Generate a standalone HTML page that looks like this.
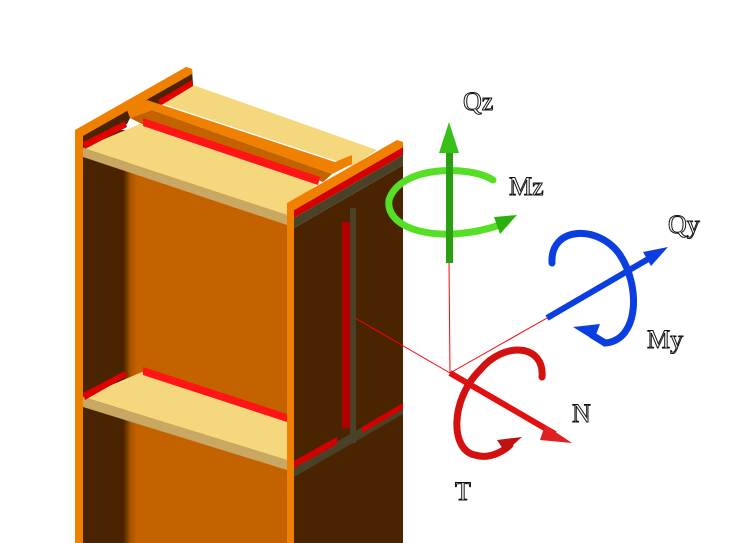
<!DOCTYPE html>
<html><head><style>
html,body{margin:0;padding:0;background:#fff;}
svg{display:block;}
text{font-family:"Liberation Serif",serif;font-size:26px;fill:#fff;stroke:#111;stroke-width:1;}
</style></head><body>
<svg width="734" height="543" viewBox="0 0 734 543" xmlns="http://www.w3.org/2000/svg">
<defs>
<linearGradient id="wg" x1="0" x2="1" y1="0" y2="0">
<stop offset="0" stop-color="#4a2400"/><stop offset="0.75" stop-color="#4a2400"/><stop offset="0.88" stop-color="#a85400"/><stop offset="1" stop-color="#c46200"/>
</linearGradient>
</defs>
<!-- back yellow plate -->
<polygon points="193,85 377,150 352,166 160,103" fill="#f5d77e"/>
<!-- back flange inner face -->
<polygon points="186,67 192,69 193,85 155,108 118,114" fill="#4a2400"/>
<polygon points="158,100 192,80 193,86 160,106" fill="#e00000"/>
<!-- front web face -->
<polygon points="83,128 287,200 287,543 83,543" fill="#c46200"/>
<rect x="83" y="130" width="54" height="413" fill="url(#wg)"/>
<!-- web band top -->
<polygon points="116,112 147,100 335,162 352,155 352,164 332,174 152,110 130,118" fill="#f08000"/>
<polygon points="130,118 152,110 332,174 323,182 142,124" fill="#c46200"/>
<!-- left flange -->
<polygon points="83,134 127,110 130,118 127,124 83,146" fill="#4a2400"/>
<polygon points="75,130 186,67 192,69 192,74 83,136 83,543 75,543" fill="#f08000"/>
<!-- front yellow plate -->
<polygon points="83,148 140,124 320,180 287,215" fill="#f5d77e"/>
<polygon points="83,148 287,215 287,225 83,157" fill="#c8a862"/>
<polygon points="83,142 125,121 127,127 85,149" fill="#e00000"/>
<polygon points="143,118 320,177 318,185 143,126" fill="#ff1515"/>
<!-- right flange -->
<polygon points="294,228 403,165 403,543 294,543" fill="#4a2400"/>
<polygon points="294,210 403,147 403,155 294,218" fill="#d40000"/>
<polygon points="294,218 403,155 403,165 294,228" fill="#4a4228"/>
<polygon points="287,203 397,140 403,142 403,147 294,210 294,543 287,543" fill="#f08000"/>
<!-- web on side -->
<rect x="350" y="208" width="6" height="235" fill="#4a4228"/>
<rect x="342" y="222" width="8" height="206" fill="#b00000"/>
<!-- lower stiffener -->
<polygon points="83,397 142,372 287,420 287,460" fill="#f5d77e"/>
<polygon points="83,397 287,460 287,470 83,407" fill="#c8a862"/>
<polygon points="83,393 125,371 127,376 85,400" fill="#e00000"/>
<polygon points="143,367 287,414 287,422 143,375" fill="#ff1515"/>
<polygon points="294,466 403,404 403,414 294,477" fill="#4a4228"/>
<polygon points="294,461 337,437 337,444 294,468" fill="#d40000"/>
<polygon points="362,427 403,403 403,409 362,433" fill="#d40000"/>
<!-- red lines -->
<line x1="355" y1="318" x2="450" y2="373" stroke="#f00" stroke-width="1"/>
<line x1="449" y1="263" x2="450" y2="373" stroke="#f00" stroke-width="1"/>
<line x1="450" y1="373" x2="547" y2="318" stroke="#f00" stroke-width="1"/>
<!-- green -->
<path d="M493,180 C470,165 400,165 389,200 C385,230 440,245 500,225" fill="none" stroke="#55e025" stroke-width="7" stroke-linecap="round"/>
<polygon points="494,217 517,215 500,234" fill="#2cb010"/>
<rect x="446" y="150" width="7" height="113" fill="#2aa010"/>
<polygon points="449,122 459,153 439,153" fill="#38c018"/>
<!-- blue -->
<line x1="547" y1="318" x2="650" y2="258" stroke="#0a3ee0" stroke-width="6"/>
<polygon points="668,247 643,252 651,266" fill="#0a3ee0"/>
<path d="M552,263 C550,225 600,225 620,255 C640,285 640,340 605,343 L592,335" fill="none" stroke="#0a3ee0" stroke-width="7" stroke-linecap="round"/>
<polygon points="573,327 600,324 594,340" fill="#0a3ee0"/>
<!-- red -->
<line x1="450" y1="373" x2="555" y2="434" stroke="#e21010" stroke-width="6"/>
<polygon points="572,443 545,425 540,440" fill="#e02020"/>
<path d="M542,377 C545,345 505,340 480,370 C450,400 450,450 475,455 C490,460 505,450 510,445" fill="none" stroke="#d41010" stroke-width="7" stroke-linecap="round"/>
<polygon points="522,437 497,440 505,452" fill="#c01010"/>
<!-- labels -->
<text x="463" y="110">Qz</text>
<text x="509" y="195">Mz</text>
<text x="668" y="233">Qy</text>
<text x="647" y="348">My</text>
<text x="572" y="422">N</text>
<text x="455" y="500">T</text>
</svg>
</body></html>
